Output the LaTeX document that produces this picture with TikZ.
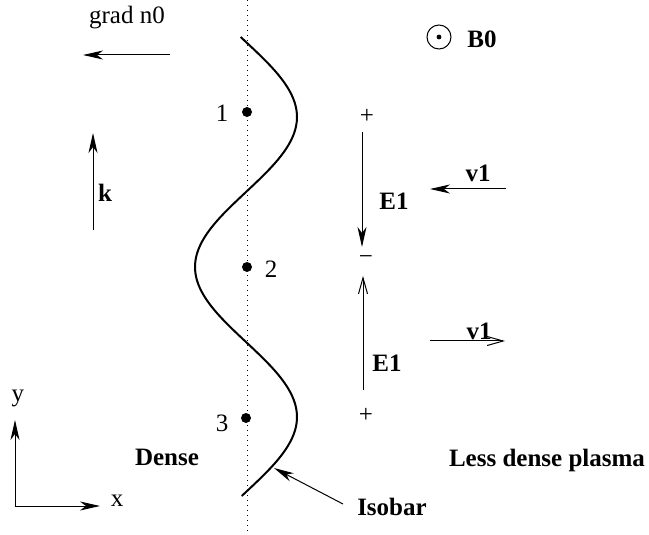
\documentclass[tikz,border=0pt]{standalone}
\usepackage{fontspec}
\setmainfont{Liberation Serif}
\usetikzlibrary{arrows.meta}
\tikzset{
  lbl/.style={font=\fontsize{12.5}{14}\selectfont, inner sep=0pt},
  blbl/.style={font=\fontsize{12.5}{14}\selectfont\bfseries, inner sep=0pt},
  fillarrow/.style={line width=0.5pt, -{Stealth[length=10pt,width=4.5pt,inset=3pt]}},
  openarrow/.style={line width=0.5pt, -{Straight Barb[length=8pt,width=4.5pt]}},
  dotpt/.style={circle, fill=black, inner sep=0pt, minimum size=5pt},
}
\begin{document}
\begin{tikzpicture}[x=0.5pt,y=-0.5pt]
\useasboundingbox (0,0) rectangle (649,535);
% dotted axis
\coordinate (dtop) at (247,0);
\coordinate (dbot) at (247,535);
\draw[dotted, line width=0.5pt] (dtop) -- (dbot);
% isobar curve
\draw[line width=1pt] plot[domain=37:496, samples=120, variable=\t]
  ({246+51*cos(1.2*(\t-117))}, \t);
% points
\node[dotpt] (p1) at (247,112) {};
\node[dotpt] (p2) at (247,267) {};
\node[dotpt] (p3) at (246,418) {};
\node[lbl] (l1) at (222,113) {1};
\node[lbl] (l2) at (271,269) {2};
\node[lbl] (l3) at (222,423) {3};
% grad n0
\node[lbl] (grad) at (127,18) {grad n0};
\coordinate (gs) at (170,55);
\coordinate (ge) at (83,55);
\draw[fillarrow] (gs) -- (ge);
% B0
\node[circle, draw, line width=0.5pt, minimum size=12pt, inner sep=0pt] (bc) at (439,37) {};
\fill (bc.center) circle (1.2pt);
\node[blbl] (b0) at (482,39) {B0};
% k
\coordinate (ks) at (93,230);
\coordinate (ke) at (93,133);
\draw[fillarrow] (ks) -- (ke);
\node[blbl] (k) at (105,193) {k};
% upper E1
\node[lbl] (plus1) at (367,116) {+};
\coordinate (e1s) at (362,132);
\coordinate (e1e) at (362,247);
\draw[fillarrow] (e1s) -- (e1e);
\node[blbl] (E1a) at (394,201) {E1};
\node[lbl] (minus) at (366,260) {−};
% upper v1
\coordinate (v1s) at (506,189);
\coordinate (v1e) at (430,189);
\draw[fillarrow] (v1s) -- (v1e);
\node[blbl] (v1a) at (478,173) {v1};
% lower E1
\coordinate (e2s) at (363,390);
\coordinate (e2e) at (363,276);
\draw[openarrow] (e2s) -- (e2e);
\node[blbl] (E1b) at (387,363) {E1};
\node[lbl] (plus2) at (366,415) {+};
% lower v1
\coordinate (v2s) at (430,341);
\coordinate (v2e) at (505,341);
\draw[openarrow] (v2s) -- (v2e);
\node[blbl] (v1b) at (479,331) {v1};
% axes
\coordinate (o) at (15,506);
\coordinate (ytip) at (15,420);
\coordinate (xtip) at (100,506);
\draw[fillarrow] (o) -- (ytip);
\draw[fillarrow] (o) -- (xtip);
\node[lbl] (ylab) at (18,398) {y};
\node[lbl] (xlab) at (117,501) {x};
% region labels
\node[blbl] (dense) at (167,457) {Dense};
\node[blbl] (less) at (547,460) {Less dense plasma};
\node[blbl] (iso) at (392,507) {Isobar};
\coordinate (isotip) at (274,468);
\coordinate (isotail) at (343,504);
\draw[fillarrow] (isotail) -- (isotip);
\end{tikzpicture}
\end{document}
